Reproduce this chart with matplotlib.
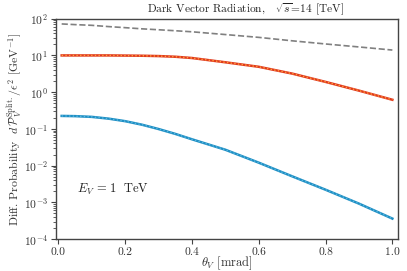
import matplotlib
matplotlib.use("Agg")
import matplotlib.pyplot as plt

plt.rcParams['font.family'] = ['cmr10', 'DejaVu Serif']
plt.rcParams['mathtext.fontset'] = 'cm'
plt.rcParams['axes.unicode_minus'] = False
plt.rcParams['axes.formatter.use_mathtext'] = True

# Datos
theta = [0.01, 0.05, 0.1, 0.15, 0.2, 0.25, 0.3, 0.35, 0.4, 0.5, 0.6, 0.7, 0.8, 0.9, 1.0]
total = [72, 69, 66, 61, 57, 53, 50, 47, 44, 37, 31, 25, 20.5, 17, 14]
split_red = [10.0, 10.0, 10.0, 10.0, 9.9, 9.8, 9.6, 9.2, 8.5, 6.5, 4.9, 3.2, 1.9, 1.1, 0.62]
split_blue = [0.225, 0.222, 0.212, 0.19, 0.162, 0.13, 0.099, 0.073, 0.052, 0.027, 0.012,
              0.0051, 0.0022, 0.00092, 0.00036]

fig = plt.figure(figsize=(4.07, 2.71), dpi=100)
ax = fig.add_axes([0.1376, 0.118, 0.8404, 0.813])

ax.plot(theta, total, '--', color='#808080', lw=1.2)
ax.plot(theta, split_red, '-', color='#e03a1e', lw=1.8)
ax.plot(theta, split_red, ':', color='#ffa03c', lw=1.0)
ax.plot(theta, split_blue, '-', color='#1f8fc4', lw=1.8)
ax.plot(theta, split_blue, ':', color='#5ab8e0', lw=1.0)

ax.set_yscale('log')
ax.set_ylim(1e-4, 1e2)
ax.set_xlim(-0.007, 1.017)
ax.set_xticks([0.0, 0.2, 0.4, 0.6, 0.8, 1.0])
ax.set_xticklabels(['0.0', '0.2', '0.4', '0.6', '0.8', '1.0'])

for s in ax.spines.values():
    s.set_color('#444444')
    s.set_linewidth(1.0)
ax.tick_params(which='both', colors='#444444', labelcolor='#333333', labelsize=8.3)
ax.tick_params(which='major', length=3.5, pad=2.5)
ax.tick_params(which='minor', length=2)

ax.text(0.06, 0.21, r'$E_V \,=\, 1\;$ TeV', transform=ax.transAxes, fontsize=9, color='#222222')
ax.text(0.265, 1.005, r'Dark Vector Radiation,   $\sqrt{s}\!=\!14$ [TeV]', fontsize=8.2,
        color='#222222', transform=ax.transAxes, ha='left', va='bottom')
ax.set_xlabel(r'$\theta_V$ [mrad]', fontsize=9, color='#333333')
ax.xaxis.set_label_coords(0.5, -0.068)
ax.set_ylabel(r'Diff. Probability  $d\,\mathcal{P}_V^{\rm Split.}/\epsilon^2$ [GeV$^{-1}$]',
              fontsize=8.5, color='#333333')
ax.yaxis.set_label_coords(-0.09, 0.5)

fig.savefig('out.png', dpi=100)
